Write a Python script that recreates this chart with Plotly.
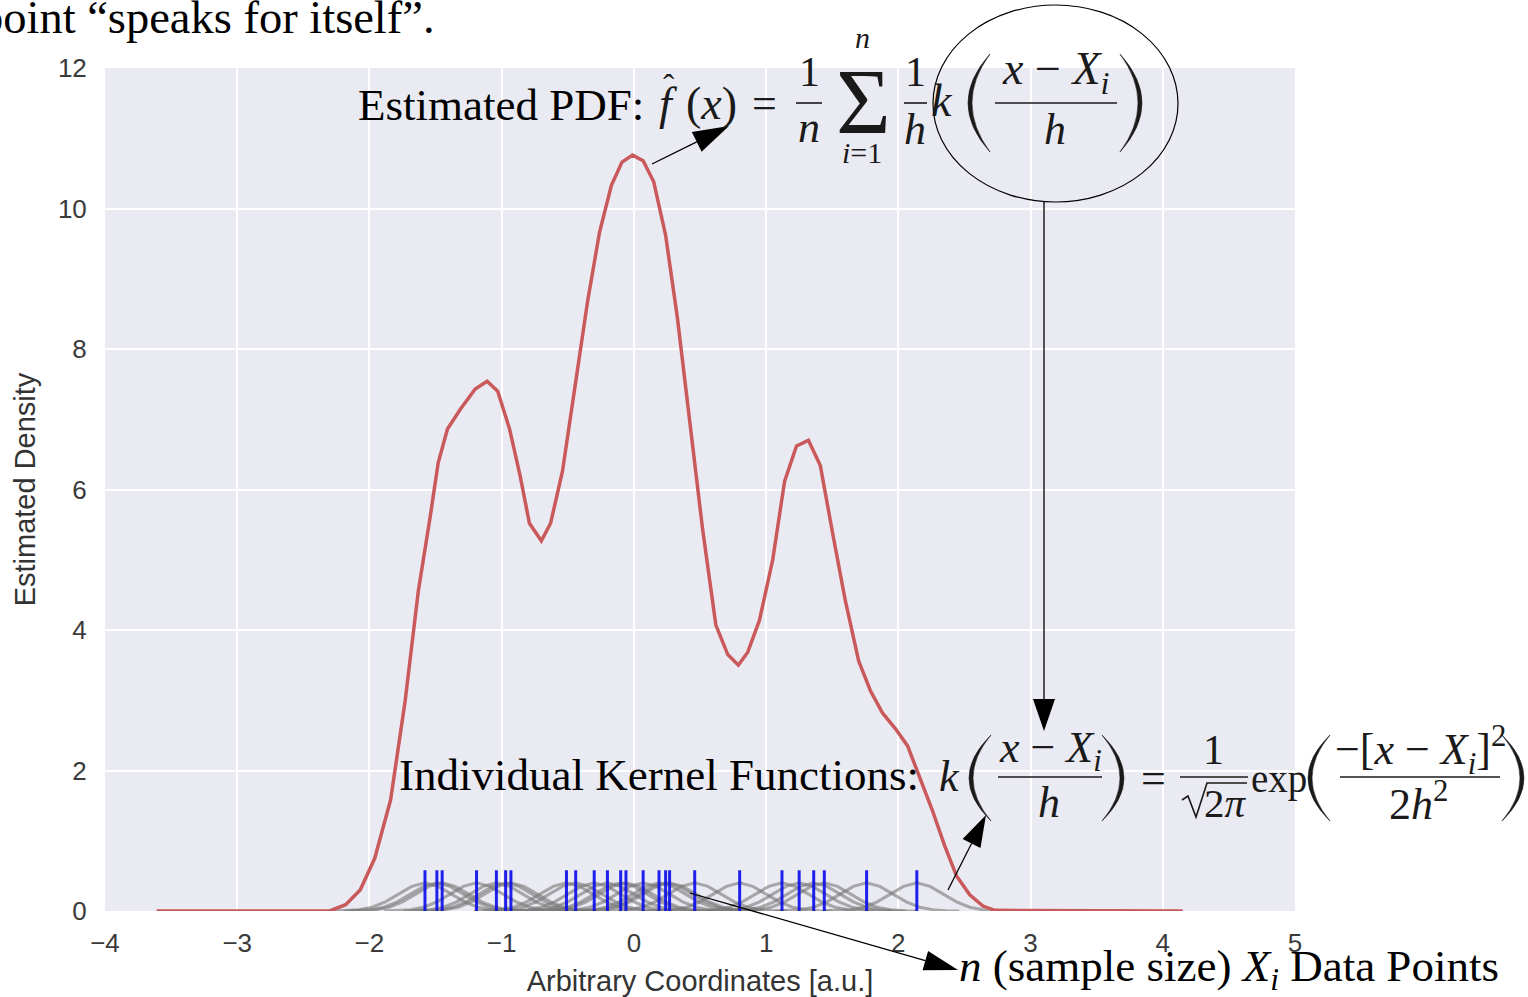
import math
import plotly.graph_objects as go

# ---- data -----------------------------------------------------------------
# Summed Gaussian-kernel density estimate, sampled on a coarse grid
kde_x = [-3.61, -2.30, -2.18, -2.07, -1.96, -1.84, -1.73, -1.63, -1.54, -1.48,
         -1.41, -1.31, -1.20, -1.11, -1.03, -0.94, -0.86, -0.79, -0.70, -0.63,
         -0.54, -0.44, -0.35, -0.26, -0.17, -0.09, -0.01, 0.07, 0.15, 0.24,
         0.33, 0.43, 0.52, 0.62, 0.71, 0.79, 0.86, 0.95, 1.05, 1.14,
         1.23, 1.32, 1.41, 1.50, 1.60, 1.70, 1.79, 1.88, 1.98, 2.07,
         2.16, 2.26, 2.35, 2.44, 2.54, 2.64, 2.73, 4.15]
kde_y = [0, 0, 0.09, 0.30, 0.75, 1.58, 2.99, 4.56, 5.62, 6.38,
         6.86, 7.15, 7.43, 7.54, 7.40, 6.86, 6.19, 5.52, 5.27, 5.52,
         6.26, 7.54, 8.68, 9.66, 10.33, 10.66, 10.76, 10.68, 10.38, 9.62,
         8.43, 6.85, 5.43, 4.07, 3.65, 3.50, 3.68, 4.14, 5.00, 6.12,
         6.62, 6.70, 6.34, 5.41, 4.41, 3.56, 3.13, 2.82, 2.59, 2.35,
         1.92, 1.42, 0.93, 0.50, 0.23, 0.07, 0.01, 0]

# Sample points X_i (rug)
data_points = [-1.58, -1.49, -1.45, -1.19, -1.04, -0.97, -0.93, -0.51, -0.44, -0.30,
               -0.20, -0.10, -0.06, 0.07, 0.19, 0.24, 0.27, 0.46, 0.80, 1.12,
               1.25, 1.36, 1.44, 1.76, 2.14]
rug_height = 0.58

# Profile of a single kernel bump around its sample point
kernel_dx = [-0.7, -0.6, -0.5, -0.4, -0.3, -0.2, -0.1, 0.0, 0.1, 0.2, 0.3, 0.4, 0.5, 0.6, 0.7]
kernel_h = [0.0, 0.005, 0.018, 0.054, 0.13, 0.24, 0.35, 0.40, 0.35, 0.24, 0.13, 0.054, 0.018, 0.005, 0.0]

x_ticks = [-4, -3, -2, -1, 0, 1, 2, 3, 4, 5]
y_ticks = [0, 2, 4, 6, 8, 10, 12]

# ---- page geometry ----------------------------------------------------------
W, H = 1528, 997
L, R, T, B = 105, 1295, 68, 911   # plot area in page pixels


def px(x):
    return (x - L) / (R - L)


def py(y):
    return (B - y) / (B - T)


SERIF = "Liberation Serif"
SANS = "Liberation Sans"
INK = "#1a1a1a"

fig = go.Figure()

for xi in data_points:
    fig.add_trace(go.Scatter(
        x=[xi + d for d in kernel_dx], y=kernel_h, mode="lines",
        line=dict(color="rgba(120,120,120,0.6)", width=3),
        hoverinfo="skip", showlegend=False))

fig.add_trace(go.Scatter(
    x=kde_x, y=kde_y, mode="lines",
    line=dict(color="#C9595A", width=3.5), showlegend=False))

rx, ry = [], []
for xi in data_points:
    rx += [xi, xi, None]
    ry += [0, rug_height, None]
fig.add_trace(go.Scatter(
    x=rx, y=ry, mode="lines",
    line=dict(color="rgba(10,10,235,0.9)", width=3), showlegend=False))

# ---- annotation helpers --------------------------------------------------------
annotations = []
shapes = []


def label(x, y, text, size, anchor="center", color=INK, family=SERIF):
    annotations.append(dict(
        xref="paper", yref="paper", x=px(x), y=py(y), text=text,
        showarrow=False, xanchor=anchor, yanchor="middle",
        font=dict(family=family, size=size, color=color)))


def seg(x0, y0, x1, y1, w=1.5, color=INK):
    shapes.append(dict(type="line", xref="paper", yref="paper",
                       x0=px(x0), y0=py(y0), x1=px(x1), y1=py(y1),
                       line=dict(color=color, width=w)))


def path(d, fill=INK, line_w=0, line_color=None):
    shapes.append(dict(type="path", xref="paper", yref="paper", path=d,
                       fillcolor=fill,
                       line=dict(color=line_color or fill, width=line_w)))


def pt(x, y):
    return f"{px(x):.5f},{py(y):.5f}"


def arrow(x0, y0, x1, y1, head=32, half=10):
    dx, dy = x1 - x0, y1 - y0
    d = math.hypot(dx, dy)
    ux, uy = dx / d, dy / d
    bx, by = x1 - ux * head, y1 - uy * head
    seg(x0, y0, bx, by, w=1.3, color="black")
    path("M " + pt(x1, y1) + " L " + pt(bx - uy * half, by + ux * half)
         + " L " + pt(bx + uy * half, by - ux * half) + " Z", fill="black")


def paren(xl, xr, y0, y1, left=True, thick=4.0):
    ym = (y0 + y1) / 2
    if left:
        tip, bulge, inner = xr, xl, xl + thick
    else:
        tip, bulge, inner = xl, xr, xr - thick
    c_out = 2 * bulge - tip
    c_in = 2 * inner - tip
    path(f"M {pt(tip, y0)} Q {pt(c_out, ym)} {pt(tip, y1)} "
         f"Q {pt(c_in, ym)} {pt(tip, y0)} Z", line_w=0.6)


def frac_bar(x0, x1, y):
    seg(x0, y, x1, y, w=1.6)


# ---- header line of body text -----------------------------------------------
label(-22, 17, "point “speaks for itself”.", 46.5, anchor="left", color="black")

# ---- estimated PDF formula ----------------------------------------------------
label(356, 105, "Estimated PDF:", 45, anchor="left", color="black")
label(668, 104, "<i>f</i>", 46)
label(669, 86, "ˆ", 34)
label(711, 104, "(<i>x</i>)", 46)
label(764, 104, "=", 44)
label(809, 72, "1", 42)
frac_bar(796, 822, 103)
label(809, 127, "<i>n</i>", 44)
label(863, 101, "Σ", 94)
label(862, 37, "<i>n</i>", 30)
label(862, 152, "<i>i</i>=1", 30)
label(915, 72, "1", 42)
frac_bar(904, 927, 103)
label(915, 129, "<i>h</i>", 44)
label(942, 101, "<i>k</i>", 46)
paren(968, 990, 54, 152, left=True)
label(1055, 72, "<i>x</i> − <i>X<sub>i</sub></i>", 46)
frac_bar(995, 1117, 103)
label(1055, 129, "<i>h</i>", 44)
paren(1120, 1142, 54, 152, left=False)

shapes.append(dict(type="circle", xref="paper", yref="paper",
                   x0=px(933), x1=px(1178), y0=py(202), y1=py(5),
                   line=dict(color="black", width=1.2)))
arrow(1044, 202, 1044, 731, head=32, half=11)
arrow(652, 164, 729, 126, head=36, half=11)

# ---- kernel formula -------------------------------------------------------
label(397, 775, "Individual Kernel Functions:", 45, anchor="left", color="black")
label(949, 776, "<i>k</i>", 44)
paren(969, 991, 735, 821, left=True)
label(1050, 750, "<i>x</i> − <i>X<sub>i</sub></i>", 44)
frac_bar(998, 1102, 777)
label(1049, 802, "<i>h</i>", 44)
paren(1102, 1124, 735, 821, left=False)
label(1153, 778, "=", 44)
label(1213, 750, "1", 42)
frac_bar(1180, 1248, 777)
path(f"M {pt(1182, 800)} L {pt(1188, 796)} L {pt(1196, 817)} L {pt(1207, 783)} "
     f"L {pt(1247, 783)}", fill="rgba(0,0,0,0)", line_w=1.6, line_color=INK)
label(1225, 803, "2<i>π</i>", 41)
label(1279, 779, "exp", 39)
paren(1308, 1330, 735, 821, left=True)
label(1420, 750, "−[<i>x</i> − <i>X<sub>i</sub></i>]<sup>2</sup>", 44)
frac_bar(1340, 1500, 777)
label(1418, 801, "2<i>h</i><sup>2</sup>", 44)
paren(1502, 1524, 735, 821, left=False)

arrow(948, 890, 986, 815, head=32, half=10)

# ---- sample-point callout --------------------------------------------------
label(957, 969, "<i>n</i> (sample size) <i>X<sub>i</sub></i> Data Points", 45,
      anchor="left", color="black")
arrow(690, 893, 958, 970, head=34, half=10)

# ---- layout --------------------------------------------------------------
fig.update_layout(
    width=W, height=H, autosize=False,
    margin=dict(l=L, r=W - R, t=T, b=H - B, pad=0),
    paper_bgcolor="white", plot_bgcolor="#EAEAF2",
    showlegend=False,
    annotations=annotations, shapes=shapes,
    xaxis=dict(range=[-4, 5], tickvals=x_ticks, showgrid=True, gridcolor="white",
               gridwidth=2, zeroline=False, showline=False, ticks="outside",
               ticklen=9, tickcolor="rgba(0,0,0,0)", automargin=False,
               tickfont=dict(family=SANS, size=26, color="#3a3a3a"),
               title=dict(text="Arbitrary Coordinates [a.u.]", standoff=14,
                          font=dict(family=SANS, size=29, color="#333333"))),
    yaxis=dict(range=[0, 12], tickvals=y_ticks, showgrid=True, gridcolor="white",
               gridwidth=2, zeroline=False, showline=False, ticks="outside",
               ticklen=12, tickcolor="rgba(0,0,0,0)", automargin=False,
               tickfont=dict(family=SANS, size=26, color="#3a3a3a"),
               title=dict(text="Estimated Density", standoff=13,
                          font=dict(family=SANS, size=29, color="#333333"))),
)

fig.write_html("out.html")
